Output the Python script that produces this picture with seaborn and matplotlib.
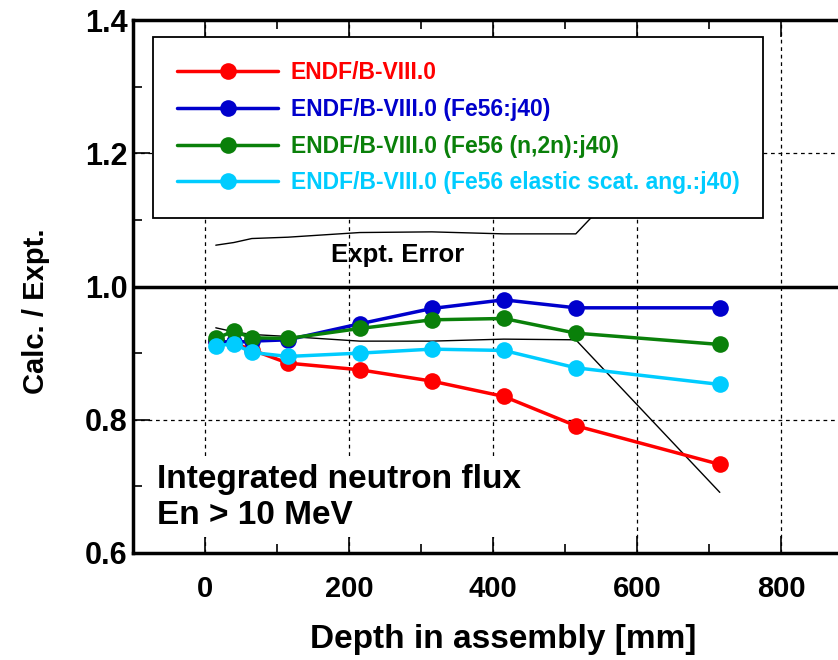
import matplotlib
matplotlib.use("Agg")
import matplotlib.pyplot as plt
from matplotlib.ticker import MultipleLocator
from matplotlib.lines import Line2D
import seaborn as sns
import pandas as pd

# ---- data ----
depth = [15, 40, 65, 115, 215, 315, 415, 515, 715]
endf8 = [0.918, 0.915, 0.905, 0.885, 0.875, 0.858, 0.835, 0.791, 0.733]
fe56_j40 = [0.918, 0.916, 0.918, 0.920, 0.944, 0.967, 0.980, 0.968, 0.968]
fe56_n2n_j40 = [0.922, 0.933, 0.923, 0.922, 0.937, 0.950, 0.952, 0.930, 0.913]
fe56_elastic_j40 = [0.911, 0.914, 0.901, 0.895, 0.900, 0.906, 0.904, 0.878, 0.853]
err_upper = [1.062, 1.066, 1.072, 1.074, 1.081, 1.082, 1.079, 1.079, 1.307]
err_lower = [0.938, 0.932, 0.928, 0.925, 0.918, 0.918, 0.921, 0.920, 0.691]

series_names = ["ENDF/B-VIII.0",
                "ENDF/B-VIII.0 (Fe56:j40)",
                "ENDF/B-VIII.0 (Fe56 (n,2n):j40)",
                "ENDF/B-VIII.0 (Fe56 elastic scat. ang.:j40)"]
series_vals = [endf8, fe56_j40, fe56_n2n_j40, fe56_elastic_j40]
colors = ["#ff0000", "#0000cc", "#0a800a", "#00ccff"]

xticks = [0, 200, 400, 600, 800]
yticks = [0.6, 0.8, 1.0, 1.2, 1.4]

df = pd.DataFrame({
    "depth": depth * len(series_names),
    "ratio": sum(series_vals, []),
    "series": [n for n in series_names for _ in depth],
})
err_df = pd.DataFrame({"depth": depth * 2,
                       "ratio": err_upper + err_lower,
                       "bound": ["upper"] * len(depth) + ["lower"] * len(depth)})

sns.set_style("ticks")
plt.rcParams["font.family"] = ["Liberation Sans", "DejaVu Sans"]
plt.rcParams["font.weight"] = "bold"
for k in ["text.color", "axes.labelcolor", "xtick.color", "ytick.color",
          "axes.edgecolor"]:
    plt.rcParams[k] = "black"

fig = plt.figure(figsize=(8.38, 6.60), dpi=100)
ax = fig.add_axes([133 / 838, 107 / 660, 720 / 838, 533 / 660])

# experimental error lines
sns.lineplot(data=err_df, x="depth", y="ratio", units="bound", estimator=None,
             color="black", lw=1.0, ax=ax, zorder=3, legend=False)

sns.lineplot(data=df, x="depth", y="ratio", hue="series", hue_order=series_names,
             palette=colors, marker="o", markersize=12, markeredgewidth=0,
             lw=2.5, ax=ax, zorder=4, legend=False)

ax.axhline(1.0, color="black", lw=2.5, zorder=2.6)

ax.set_xlim(-100, 900)
ax.set_ylim(0.6, 1.4)
ax.set_xticks(xticks)
ax.set_yticks(yticks)
ax.xaxis.set_minor_locator(MultipleLocator(100))
ax.yaxis.set_minor_locator(MultipleLocator(0.1))
ax.grid(True, which="major", color="black", linestyle=(0, (3, 3)), lw=0.9)

for s in ["left", "bottom", "top"]:
    ax.spines[s].set_linewidth(2.5)
    ax.spines[s].set_color("black")
ax.spines["right"].set_visible(False)

ax.tick_params(which="major", direction="in", length=12, width=1.2,
               top=True, right=False, color="black")
ax.tick_params(which="minor", direction="in", length=6.5, width=1.2,
               top=True, right=False, color="black")
ax.tick_params(axis="y", labelsize=22, pad=4)
ax.tick_params(axis="x", labelsize=21, pad=16)
ax.set_yticklabels([f"{v:.1f}" for v in yticks])
for lab in ax.get_xticklabels() + ax.get_yticklabels():
    lab.set_fontweight("bold")

ax.set_xlabel("Depth in assembly [mm]", fontsize=24, fontweight="bold")
ax.xaxis.set_label_coords(0.514, -0.133)
ax.set_ylabel("Calc. / Expt.", fontsize=21, fontweight="bold")
ax.yaxis.set_label_coords(-0.115, 0.454)

ax.text(268, 1.047, "Expt. Error", fontsize=18.5, fontweight="bold",
        ha="center", va="center", zorder=3)

ax.text(-66, 0.644, "Integrated neutron flux\nEn > 10 MeV", fontsize=24,
        fontweight="bold", ha="left", va="baseline",
        linespacing=1.2, zorder=3,
        bbox=dict(boxstyle="square,pad=0.2", facecolor="white", edgecolor="none"))

handles = [Line2D([], [], color=c, lw=2.5, marker="o", markersize=12,
                  markeredgewidth=0) for c in colors]
leg = ax.legend(handles, series_names, loc="upper left",
                bbox_to_anchor=(0.028, 0.968), frameon=True, fancybox=False,
                edgecolor="black", facecolor="white", framealpha=1,
                handlelength=4.4, handletextpad=0.55, borderpad=1.05,
                labelspacing=0.6, borderaxespad=0,
                prop={"weight": "bold", "size": 16.5})
leg.get_frame().set_linewidth(1.3)
leg.set_zorder(10)
for t, c in zip(leg.get_texts(), colors):
    t.set_color(c)

fig.savefig("out.png", dpi=100)
